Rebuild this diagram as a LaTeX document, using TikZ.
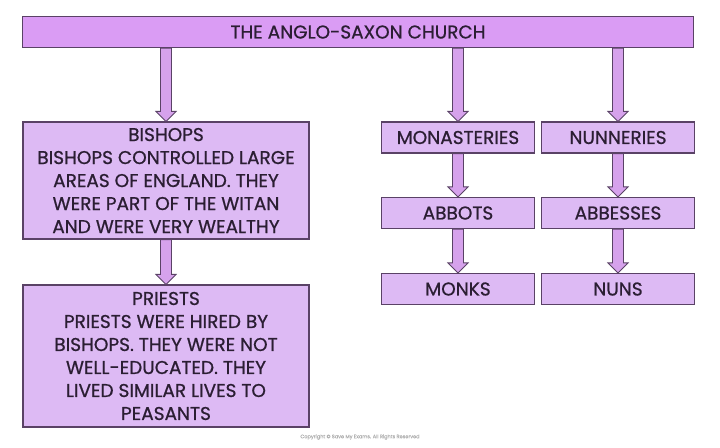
\documentclass[tikz,border=0pt]{standalone}
\usepackage{fontspec}
\setmainfont{Poppins}[FakeBold=0.8]
\usepackage{tikz}
\usetikzlibrary{calc}
\usetikzlibrary{positioning}
\definecolor{titlefill}{HTML}{DA9CF4}
\definecolor{boxfill}{HTML}{DDBAF4}
\definecolor{boxline}{HTML}{5A4266}
\definecolor{arrowfill}{HTML}{D6A2EC}
\definecolor{inktext}{HTML}{2B1E33}
\tikzset{box/.style = {draw=boxline, line width=1.2pt, fill=boxfill,
                       text=inktext, align=center, inner sep=0pt,
                       font=\fontsize{18.5}{23}\selectfont}}
\tikzset{titlebox/.style = {box, fill=titlefill, minimum width=671pt,
                            minimum height=31pt}}
\tikzset{smallbox/.style = {box, minimum width=153pt, minimum height=31pt}}
\tikzset{bigbox/.style = {box, minimum width=286pt}}
\tikzset{flowarrow/.style = {draw=boxline, line width=0.9pt, fill=arrowfill,
                             line join=miter}}
\newcommand{\flowarrow}[2]{%
  \draw[flowarrow] let \p1 = (#2.north |- #1.south), \p2 = (#2.north) in
    (\x1-5.5pt,\y1) -- (\x1-5.5pt,\y2+10pt) -- (\x1-10pt,\y2+10pt) -- (\x2,\y2)
    -- (\x1+10pt,\y2+10pt) -- (\x1+5.5pt,\y2+10pt) -- (\x1+5.5pt,\y1) -- cycle;}

\begin{document}
\begin{tikzpicture}[x=1pt, y=-1pt]
  \useasboundingbox (0,0) rectangle (720,447);
  \node[titlebox] (church) at (358, 32) {THE ANGLO-SAXON CHURCH};
  \node[bigbox, minimum height=117pt] (bishops) at (166, 180.5)
    {BISHOPS\\BISHOPS CONTROLLED LARGE\\AREAS OF ENGLAND. THEY\\WERE PART OF THE WITAN\\AND WERE VERY WEALTHY};
  \node[bigbox, minimum height=142pt] (priests) at (166, 356)
    {PRIESTS\\PRIESTS WERE HIRED BY\\BISHOPS. THEY WERE NOT\\WELL-EDUCATED. THEY\\LIVED SIMILAR LIVES TO\\PEASANTS};
  \node[smallbox] (monasteries) at (458, 137.5) {MONASTERIES};
  \node[smallbox] (nunneries) at (618, 137.5) {NUNNERIES};
  \node[smallbox] (abbots) at (458, 213) {ABBOTS};
  \node[smallbox] (abbesses) at (618, 213) {ABBESSES};
  \node[smallbox] (monks) at (458, 289) {MONKS};
  \node[smallbox] (nuns) at (618, 289) {NUNS};
  \node[text=black!30, font=\fontsize{5}{6}\selectfont] (copyright) at (360, 437)
    {Copyright © Save My Exams. All Rights Reserved};
  % arrows
  \flowarrow{church}{bishops}
  \flowarrow{church}{monasteries}
  \flowarrow{church}{nunneries}
  \flowarrow{bishops}{priests}
  \flowarrow{monasteries}{abbots}
  \flowarrow{abbots}{monks}
  \flowarrow{nunneries}{abbesses}
  \flowarrow{abbesses}{nuns}
\end{tikzpicture}
\end{document}
